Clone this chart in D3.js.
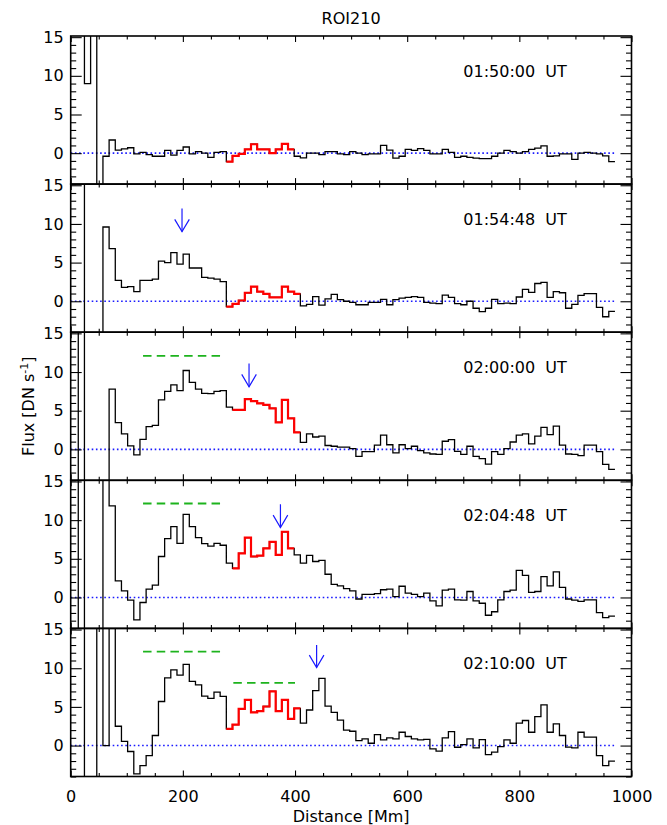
<!DOCTYPE html>
<html>
<head>
<meta charset="utf-8">
<script src="https://cdn.jsdelivr.net/npm/d3@7"></script>
<style>
body { margin: 0; background: #fff; }
text { font-family: "DejaVu Sans", sans-serif; fill: #000; }
</style>
</head>
<body>
<svg id="chart"></svg>
<script>

// bin centres along the slit [Mm]
var distance = [8, 19, 30, 41, 52, 63, 74, 85, 96, 107, 118, 129, 140, 151, 162, 173, 184, 195, 206, 217,
  228, 239, 250, 261, 272, 283, 294, 305, 316, 327, 338, 349, 360, 371, 382, 393, 404, 415, 426, 437,
  448, 459, 470, 481, 492, 503, 514, 525, 536, 547, 558, 569, 580, 591, 602, 613, 624, 635, 646, 657,
  668, 679, 690, 701, 712, 723, 734, 745, 756, 767, 778, 789, 800, 811, 822, 833, 844, 855, 866, 877,
  888, 899, 910, 921, 932, 943, 954, 965];

// flux per bin, one array per frame (values beyond the axis range are clipped)
var flux_0150 = [40, 40, 9, 40, -40, -0.4, 1.7, 0.4, 0.55, 0.7,
  -0.1, 0.1, -0.2, -0.4, -0.4, 0.35, -0.25, 0.35, 0.8, -0.1,
  0.2, 0.0, -0.55, 0.1, 0.2, -1.1, -0.35, -0.1, 0.5, 1.15,
  0.5, 0.5, 0.0, 0.5, 1.2, 0.5, -0.4, -0.6, 0.0, 0.0,
  -0.2, 0.2, 0.2, -0.1, -0.2, 0.2, 0.0, -0.2, -0.1, -0.1,
  1.0, 0.4, -0.65, -0.4, 0.5, 0.35, 0.6, 0.35, -0.1, -0.1,
  0.5, 0.1, -0.55, -0.4, -0.55, -0.65, -0.7, -0.7, -0.4, 0.0,
  0.35, 0.2, 0.0, 0.2, 0.5, 0.65, 0.95, -0.4, -0.35, -0.1,
  -0.1, -0.8, 0.0, 0.1, 0.0, -0.1, -0.35, -1.1];

var flux_0154 = [40, 40, -40, -40, -40, 9.6, 6.8, 2.7, 1.8, 1.9,
  1.25, 2.7, 2.7, 2.85, 5.2, 5.0, 6.3, 4.8, 6.1, 4.3,
  4.3, 3.1, 3.0, 2.85, 2.55, -0.7, -0.35, 0.1, 1.1, 1.9,
  1.25, 0.95, 0.5, 0.5, 1.9, 1.25, 0.95, -0.6, -0.4, 0.6,
  -0.5, 0.3, 0.9, 0.2, 0.0, -0.15, -0.45, -0.45, -0.15, -0.15,
  0.25, -0.45, 0.2, 0.4, 0.5, 0.6, 0.5, -0.15, -0.25, -0.3,
  0.8, 0.5, -0.3, -0.45, 0.0, -0.9, -1.35, -0.9, 0.25, -0.3,
  -0.25, -0.3, 0.55, 1.55, 1.15, 2.3, 2.45, 0.5, 1.25, 1.1,
  -0.9, -0.4, 0.75, 1.0, 1.0, -0.8, -2.0, -1.3];

var flux_0200 = [-40, 40, -40, -40, -40, -40, 7.8, 3.45, 2.0, 0.45,
  -0.7, 1.3, 2.95, 3.1, 6.4, 7.5, 8.35, 7.6, 10.2, 8.65,
  7.8, 7.25, 7.2, 7.5, 7.6, 5.45, 5.1, 5.1, 6.5, 6.25,
  5.95, 5.75, 5.3, 3.5, 6.4, 4.0, 2.2, 0.9, 2.0, 1.6,
  1.7, 0.5, 0.4, 0.3, 0.3, 0.1, -0.9, -0.3, -0.3, 0.55,
  1.85, 0.6, -0.45, 0.6, 0.1, 0.4, -0.15, -0.45, -0.6, -0.65,
  1.05, 1.25, -0.25, -0.65, 0.4, -0.9, -1.2, -1.9, -0.3, -0.65,
  0.1, 0.95, 1.85, 2.0, 0.7, 1.7, 2.85, 1.9, 3.0, 0.55,
  -0.6, -0.65, -0.8, 0.55, 0.55, -0.3, -1.95, -2.6];

var flux_0204 = [-40, 40, -40, -40, -40, 40, 11.85, 2.15, 0.85, -0.35,
  -2.9, -0.65, 1.07, 1.6, 5.3, 7.6, 9.15, 7.0, 10.75, 9.15,
  7.75, 6.95, 6.65, 7.0, 6.75, 4.45, 3.75, 5.7, 7.75, 5.3,
  5.4, 6.35, 7.2, 5.5, 8.5, 6.35, 5.5, 4.45, 5.45, 4.65,
  4.8, 3.0, 1.7, 1.5, 1.15, 0.85, -0.2, 0.4, 0.4, 0.5,
  1.0, 1.07, 0.1, 1.45, 0.55, 0.4, 0.1, 0.55, -0.45, -1.1,
  0.95, 1.07, -0.3, -0.35, 0.77, -0.45, -0.75, -2.3, -1.85, -0.3,
  0.77, 0.95, 3.5, 2.85, 0.65, 0.77, 2.7, 1.5, 3.3, 1.3,
  -0.2, -0.35, -0.5, -0.3, -0.3, -1.95, -2.6, -2.4];

var flux_0210 = [40, 40, -40, -40, 40, 0, 40, 2.5, 0.55, -0.77,
  -3.65, -2.6, -1.3, 1.3, 5.7, 8.75, 9.8, 9.1, 10.5, 8.3,
  7.85, 6.4, 6.1, 6.9, 6.35, 2.15, 2.7, 4.75, 5.9, 4.3,
  4.45, 5.05, 7.0, 4.45, 5.9, 3.45, 4.8, 2.9, 4.6, 7.1,
  8.7, 5.1, 4.3, 3.3, 2.0, 1.85, 0.65, 0.87, 0.3, 1.42,
  0.73, 1.0, 0.87, 1.72, 1.17, 0.87, 0.73, 0.8, -0.43, -0.73,
  1.0, 1.8, -0.22, 0.13, 0.87, -0.3, 0.78, -1.16, -0.86, -0.13,
  0.73, 0.3, 2.9, 3.24, 1.72, 3.75, 5.26, 1.72, 2.8, 1.3,
  -0.2, -0.3, 1.72, 1.08, 1.08, -1.3, -2.6, -2.0];

var panel_flux = [flux_0150, flux_0154, flux_0200, flux_0204, flux_0210];
var panel_times = ["01:50:00  UT", "01:54:48  UT", "02:00:00  UT", "02:04:48  UT", "02:10:00  UT"];

// first and last bin of the red (highlighted) stretch in each frame
var red_first = [25, 25, 26, 26, 25];
var red_last = [35, 36, 36, 35, 36];

// blue arrows: panel, distance, top and tip flux
var arrow_panel = [1, 2, 3, 4];
var arrow_x = [198.5, 318, 374, 438.5];
var arrow_top = [12.0, 11.1, 12.05, 13.0];
var arrow_tip = [9.0, 8.1, 9.05, 10.1];

// green dashed levels: panel, start, end, flux
var level_panel = [2, 3, 4, 4];
var level_x0 = [129, 129, 129, 290];
var level_x1 = [267, 267, 267, 400];
var level_y = [12.1, 12.15, 12.15, 8.1];

var x_major = [0, 200, 400, 600, 800, 1000];
var y_major = [0, 5, 10, 15];

var width = 667;
var height = 825;
var left = 70.7, right = 631.5;
var top0 = 36, panelH = 148.1;

var svg = d3.select("#chart")
  .attr("width", width)
  .attr("height", height);

var x = d3.scaleLinear().domain([0, 1000]).range([left, right]);

var line_blue = "#1a1aff";

function stepPoints(vals, i0, i1) {
  var w = distance[1] - distance[0];
  var pts = [];
  for (var i = i0; i <= i1; i++) {
    pts.push([distance[i] - w / 2, vals[i]]);
    pts.push([distance[i] + w / 2, vals[i]]);
  }
  return pts;
}

function drawPanel(p) {
  var ptop = top0 + p * panelH;
  var y = d3.scaleLinear().domain([-4, 15.15]).range([ptop + panelH, ptop]);
  var g = svg.append("g");

  g.append("clipPath").attr("id", "clip" + p)
    .append("rect")
    .attr("x", left).attr("y", ptop)
    .attr("width", right - left).attr("height", panelH);

  var plot = g.append("g").attr("clip-path", "url(#clip" + p + ")");

  var line = d3.line()
    .x(function (d) { return x(d[0]); })
    .y(function (d) { return y(d[1]); });

  // zero level
  var w = distance[1] - distance[0];
  plot.append("line")
    .attr("x1", x(0)).attr("x2", x(distance[distance.length - 1] + w / 2))
    .attr("y1", y(0)).attr("y2", y(0))
    .attr("stroke", line_blue)
    .attr("stroke-width", 1.6)
    .attr("stroke-dasharray", "1.6,2.6");

  var vals = panel_flux[p];
  plot.append("path")
    .attr("d", line(stepPoints(vals, 0, vals.length - 1)))
    .attr("fill", "none")
    .attr("stroke", "#000")
    .attr("stroke-width", 1.3);

  plot.append("path")
    .attr("d", line(stepPoints(vals, red_first[p], red_last[p])))
    .attr("fill", "none")
    .attr("stroke", "#ff0000")
    .attr("stroke-width", 2.2);

  // green dashed levels
  for (var k = 0; k < level_panel.length; k++) {
    if (level_panel[k] != p) continue;
    plot.append("line")
      .attr("x1", x(level_x0[k])).attr("x2", x(level_x1[k]))
      .attr("y1", y(level_y[k])).attr("y2", y(level_y[k]))
      .attr("stroke", "#1db31d")
      .attr("stroke-width", 1.8)
      .attr("stroke-dasharray", "8.5,5.2");
  }

  // arrows
  for (var a = 0; a < arrow_panel.length; a++) {
    if (arrow_panel[a] != p) continue;
    var ax = x(arrow_x[a]), ty = y(arrow_tip[a]);
    plot.append("line")
      .attr("x1", ax).attr("x2", ax)
      .attr("y1", y(arrow_top[a])).attr("y2", ty)
      .attr("stroke", line_blue).attr("stroke-width", 1.2);
    plot.append("path")
      .attr("d", "M" + (ax - 7.3) + "," + (ty - 12.3) + "L" + ax + "," + ty + "L" + (ax + 7.3) + "," + (ty - 12.3))
      .attr("fill", "none")
      .attr("stroke", line_blue).attr("stroke-width", 1.2);
  }

  // ticks, all pointing inward
  var yMinor = d3.range(-4, 16).filter(function (v) { return v % 5 != 0; });
  var xMinor = d3.range(0, 1001, 50).filter(function (v) { return v % 200 != 0; });

  g.append("g").attr("transform", "translate(" + left + ",0)")
    .call(d3.axisLeft(y).tickValues(y_major).tickSize(-11).tickPadding(7).tickFormat(d3.format("d")))
    .call(styleAxis);
  g.append("g").attr("transform", "translate(" + left + ",0)")
    .call(d3.axisLeft(y).tickValues(yMinor).tickSize(-5.5).tickFormat(""))
    .call(styleAxis);
  g.append("g").attr("transform", "translate(" + right + ",0)")
    .call(d3.axisRight(y).tickValues(y_major).tickSize(-11).tickFormat(""))
    .call(styleAxis);
  g.append("g").attr("transform", "translate(" + right + ",0)")
    .call(d3.axisRight(y).tickValues(yMinor).tickSize(-5.5).tickFormat(""))
    .call(styleAxis);

  g.append("g").attr("transform", "translate(0," + ptop + ")")
    .call(d3.axisTop(x).tickValues(x_major).tickSize(-6).tickFormat(""))
    .call(styleAxis);
  g.append("g").attr("transform", "translate(0," + ptop + ")")
    .call(d3.axisTop(x).tickValues(xMinor).tickSize(-3.5).tickFormat(""))
    .call(styleAxis);
  g.append("g").attr("transform", "translate(0," + (ptop + panelH) + ")")
    .call(d3.axisBottom(x).tickValues(x_major).tickSize(-6).tickPadding(14)
      .tickFormat(p == 4 ? d3.format("d") : ""))
    .call(styleAxis);
  g.append("g").attr("transform", "translate(0," + (ptop + panelH) + ")")
    .call(d3.axisBottom(x).tickValues(xMinor).tickSize(-3.5).tickFormat(""))
    .call(styleAxis);

  g.append("rect")
    .attr("x", left).attr("y", ptop)
    .attr("width", right - left).attr("height", panelH)
    .attr("fill", "none")
    .attr("stroke", "#000")
    .attr("stroke-width", 1.6);

  g.append("text")
    .attr("x", 463.3)
    .attr("y", ptop + 40.7)
    .style("white-space", "pre")
    .style("font-size", "16px")
    .text(panel_times[p]);
}

function styleAxis(sel) {
  sel.select(".domain").remove();
  sel.selectAll(".tick line").attr("stroke", "#000").attr("stroke-width", 1.1);
  sel.selectAll(".tick text")
    .attr("font-family", "DejaVu Sans, sans-serif")
    .attr("font-size", 16)
    .attr("fill", "#000");
}

for (var p = 0; p < panel_flux.length; p++) {
  drawPanel(p);
}

svg.append("text")
  .attr("x", (left + right) / 2)
  .attr("y", 24)
  .attr("text-anchor", "middle")
  .style("font-size", "16px")
  .text("ROI210");

svg.append("text")
  .attr("x", (left + right) / 2)
  .attr("y", 822)
  .attr("text-anchor", "middle")
  .style("font-size", "16px")
  .text("Distance [Mm]");

var ylab = svg.append("text")
  .attr("transform", "translate(34," + (top0 + 2.5 * panelH) + ") rotate(-90)")
  .attr("text-anchor", "middle")
  .style("font-size", "16px");
ylab.append("tspan").text("Flux [DN s");
ylab.append("tspan").attr("baseline-shift", "super").style("font-size", "11px").text("-1");
ylab.append("tspan").text("]");

</script>
</body>
</html>
